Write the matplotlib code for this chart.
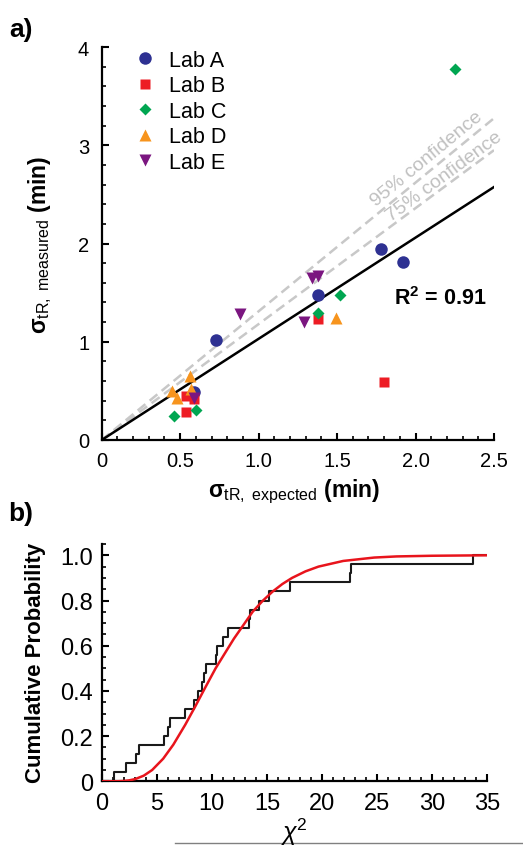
import numpy as np
import matplotlib
matplotlib.use("Agg")
import matplotlib.pyplot as plt
from matplotlib.lines import Line2D
from matplotlib.ticker import MultipleLocator, FixedLocator

plt.rcParams['font.family'] = ['Liberation Sans', 'DejaVu Sans']
plt.rcParams['mathtext.fontset'] = 'custom'
plt.rcParams['mathtext.rm'] = 'Liberation Sans'
plt.rcParams['mathtext.it'] = 'Liberation Sans:italic'
plt.rcParams['mathtext.bf'] = 'Liberation Sans:bold'

# ---------------- data: panel a ----------------
labs = ["Lab A", "Lab B", "Lab C", "Lab D", "Lab E"]
labA_x = [1.78, 1.92, 1.38, 0.73, 0.59]
labA_y = [1.94, 1.81, 1.48, 1.02, 0.49]
labB_x = [1.38, 1.80, 0.54, 0.59, 0.54]
labB_y = [1.23, 0.59, 0.45, 0.42, 0.28]
labC_x = [2.25, 1.52, 1.38, 0.60, 0.46]
labC_y = [3.78, 1.48, 1.29, 0.31, 0.24]
labD_x = [1.49, 0.56, 0.45, 0.48, 0.57]
labD_y = [1.24, 0.65, 0.50, 0.43, 0.52]
labE_x = [1.34, 1.38, 0.88, 1.29, 0.59]
labE_y = [1.65, 1.67, 1.28, 1.20, 0.43]

fit_slope = 1.03
conf95_slope = 1.31
conf75_slope = 1.18
r2_text = "0.91"

a_xticks = [0, 0.5, 1.0, 1.5, 2.0, 2.5]
a_xticklabels = ["0", "0.5", "1.0", "1.5", "2.0", "2.5"]
a_yticks = [0, 1, 2, 3, 4]
a_yticklabels = ["0", "1", "2", "3", "4"]

# ---------------- data: panel b ----------------
chi2_values = [1.12, 2.2, 3.08, 3.38, 5.65, 6.05, 6.2, 7.56, 8.41, 8.77,
               9.07, 9.25, 9.46, 10.35, 10.45, 11.03, 11.49, 13.4, 13.5,
               14.3, 15.2, 17.09, 22.5, 22.65, 33.7]
cdf_x = [0, 1.5, 2.0, 2.5, 3.05, 3.82, 4.58, 5.58, 6.5, 7.58, 8.5, 9.4,
         10.34, 11.2, 12.0, 13.7, 14.6, 15.5, 16.4, 17.28, 18.5, 19.68,
         21.92, 24.73, 26.76, 30.0, 35.0]
cdf_y = [0, 0.0004, 0.0015, 0.0042, 0.01, 0.025, 0.05, 0.10, 0.162, 0.25,
         0.332, 0.415, 0.50, 0.568, 0.631, 0.75, 0.798, 0.839, 0.873, 0.90,
         0.929, 0.95, 0.975, 0.99, 0.995, 0.998, 1.0]

b_xticks = [0, 5, 10, 15, 20, 25, 30, 35]
b_xticklabels = ["0", "5", "10", "15", "20", "25", "30", "35"]
b_yticks = [0, 0.2, 0.4, 0.6, 0.8, 1.0]
b_yticklabels = ["0", "0.2", "0.4", "0.6", "0.8", "1.0"]

# ---------------- figure ----------------
W, H = 523, 854
fig = plt.figure(figsize=(W / 100, H / 100), dpi=100)

def px_axes(left, right, top, bottom):
    return fig.add_axes([left / W, 1 - bottom / H, (right - left) / W, (bottom - top) / H])

axA = px_axes(101.7, 494, 48, 441)
axB = px_axes(101.7, 487.3, 545, 782.3)

def style_axes(ax, labelsize, xpad, ypad):
    for s in ['top', 'right']:
        ax.spines[s].set_visible(False)
    for s in ['left', 'bottom']:
        ax.spines[s].set_linewidth(1.6)
    ax.tick_params(which='major', direction='in', length=5, width=1.5,
                   labelsize=labelsize)
    ax.tick_params(axis='x', which='major', pad=xpad)
    ax.tick_params(axis='y', which='major', pad=ypad)
    ax.tick_params(which='minor', direction='in', length=3, width=1.2)

# panel a
blue = "#2E3192"; red = "#ED1C24"; green = "#00A651"; orange = "#F7941D"; purple = "#7B1680"
xs_line = np.array([0, 2.5])
dash = (0, (4, 2.2))
axA.plot(xs_line, conf95_slope * xs_line, color="#c8c8c8", lw=1.8, ls=dash, zorder=1)
axA.plot(xs_line, conf75_slope * xs_line, color="#c8c8c8", lw=1.8, ls=dash, zorder=1)
axA.plot(xs_line, fit_slope * xs_line, color="black", lw=1.8, zorder=2)

series = [
    (labA_x, labA_y, blue, 'o', 9.0),
    (labB_x, labB_y, red, 's', 7.5),
    (labC_x, labC_y, green, 'D', 6.0),
    (labD_x, labD_y, orange, '^', 8.0),
    (labE_x, labE_y, purple, 'v', 8.0),
]
handles = []
for (xx, yy, c, m, ms), name in zip(series, labs):
    axA.plot(xx, yy, ls='none', marker=m, ms=ms, color=c, mec='none', zorder=3)
    handles.append(Line2D([], [], ls='none', marker=m, ms=ms, color=c, mec='none', label=name))

axA.set_xlim(0, 2.5)
axA.set_ylim(0, 4)
style_axes(axA, 14.5, 8, 9)
axA.xaxis.set_major_locator(FixedLocator(a_xticks))
axA.set_xticklabels(a_xticklabels)
axA.yaxis.set_major_locator(FixedLocator(a_yticks))
axA.set_yticklabels(a_yticklabels)
axA.xaxis.set_minor_locator(MultipleLocator(0.1))
axA.yaxis.set_minor_locator(MultipleLocator(0.2))

leg = axA.legend(handles=handles, loc='upper left', bbox_to_anchor=(0.085, 0.993),
                 frameon=False, fontsize=15.5, handlelength=0.9, handletextpad=0.7,
                 labelspacing=0.21, borderaxespad=0, borderpad=0)

axA.text(2.07, 2.87, "95% confidence", color="#c0c0c0", fontsize=14,
         rotation=39.5, rotation_mode='anchor', ha='center', va='center')
axA.text(2.18, 2.69, "75% confidence", color="#c0c0c0", fontsize=14,
         rotation=36.5, rotation_mode='anchor', ha='center', va='center')
axA.text(2.16, 1.45, "R$^\\mathbf{2}$ = " + r2_text, fontsize=15.5, fontweight='bold',
         ha='center', va='center')

# panel b
n = len(chi2_values)
step_x = [0] + sorted(chi2_values) + [35]
step_y = [0] + list(np.arange(1, n + 1) / n) + [1.0]
axB.step(step_x, step_y, where='post', color="#1a1a1a", lw=1.5, zorder=2)
axB.plot(cdf_x, cdf_y, color="#E8141C", lw=1.8, zorder=3)
axB.set_xlim(0, 35)
axB.set_ylim(0, 1.05)
style_axes(axB, 17, 8, 6)
axB.xaxis.set_major_locator(FixedLocator(b_xticks))
axB.set_xticklabels(b_xticklabels)
axB.yaxis.set_major_locator(FixedLocator(b_yticks))
axB.set_yticklabels(b_yticklabels)
axB.xaxis.set_minor_locator(MultipleLocator(1))
axB.yaxis.set_minor_locator(MultipleLocator(0.05))

# labels (pixel placed)
def ftext(x, y, s, **kw):
    fig.text(x / W, 1 - y / H, s, **kw)

ftext(21, 30, "a)", fontsize=19, fontweight='bold', ha='center', va='center')
ftext(21, 514, "b)", fontsize=19, fontweight='bold', ha='center', va='center')
ftext(40, 245, "σ$_{\\mathrm{tR,\\ measured}}$ (min)", fontsize=16.5, fontweight='bold',
      rotation=90, ha='center', va='center')
ftext(294, 492, "σ$_{\\mathrm{tR,\\ expected}}$ (min)", fontsize=16.5, fontweight='bold',
      ha='center', va='center')
ftext(36, 663, "Cumulative Probability", fontsize=16, fontweight='bold',
      rotation=90, ha='center', va='center')
ftext(294, 832, "χ$^{2}$", fontsize=18, style='italic', ha='center', va='center')

fig.add_artist(Line2D([175 / W, 1.0], [1 - 844 / H, 1 - 844 / H], color="#808080", lw=1.0))

fig.savefig("out.png", dpi=100)
